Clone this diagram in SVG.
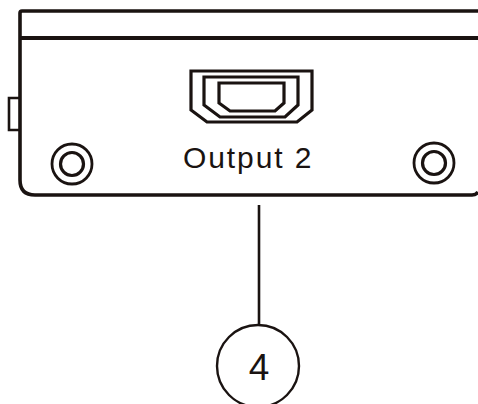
<svg xmlns="http://www.w3.org/2000/svg" width="478" height="404" viewBox="0 0 478 404">
<style>
.ln{fill:none;stroke:#1a1311;stroke-linejoin:miter}
.t{font-family:"Liberation Sans",Arial,sans-serif;fill:#1a1311}
</style>
<rect width="478" height="404" fill="#fff"/>
<g id="chassis">
<path class="ln" stroke-width="3.6" d="M478 11H22Q20 11 20 13V180Q20 195 35 195H472Q476 195 478 192"/>
<path class="ln" stroke-width="4" d="M20 38H478"/>
<path class="ln" stroke-width="2.6" d="M19 98H9V130H19"/>
</g>
<g id="screw-left">
<circle class="ln" stroke-width="2.8" cx="72" cy="164" r="20"/>
<circle class="ln" stroke-width="3.2" cx="72" cy="164" r="11.5"/>
</g>
<g id="screw-right">
<circle class="ln" stroke-width="2.8" cx="434" cy="163" r="20"/>
<circle class="ln" stroke-width="3.2" cx="434" cy="163" r="11.5"/>
</g>
<g id="hdmi-port">
<path class="ln" stroke-width="3.2" d="M191 71H312V110L297 122H207L191 110Z"/>
<path class="ln" stroke-width="3.2" d="M204 77H298V105L285 117H220L204 105Z"/>
<path class="ln" stroke-width="3.2" d="M219 83H284V103L275 111H230L219 103Z"/>
<text class="t" x="183" y="168" font-size="30" letter-spacing="1.9">Output 2</text>
</g>
<g id="connectors">
<path class="ln" stroke-width="2.6" d="M259 205V326"/>
</g>
<g id="callout-4">
<circle class="ln" stroke-width="2.4" cx="258" cy="366" r="41"/>
<text class="t" x="259" y="380" font-size="37" text-anchor="middle">4</text>
</g>
</svg>
